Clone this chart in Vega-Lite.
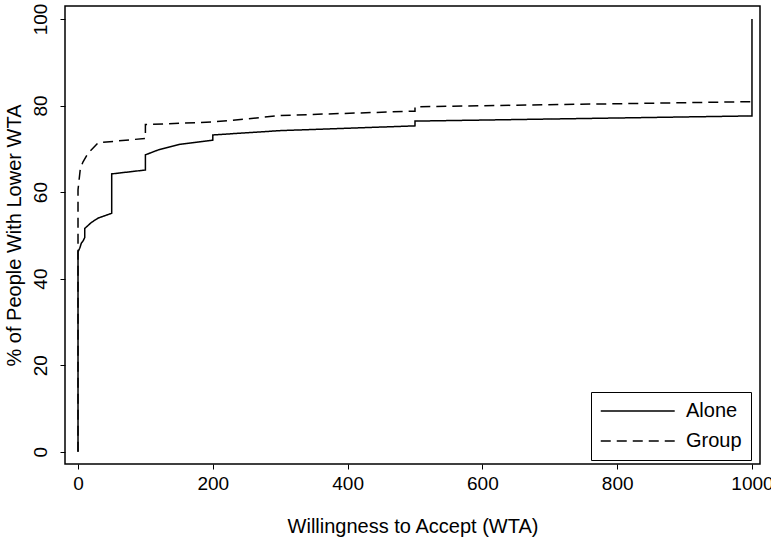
{
  "$schema": "https://vega.github.io/schema/vega-lite/v6.json",
  "width": 695,
  "height": 458,
  "autosize": "none",
  "padding": {"left": 65, "top": 6, "right": 11, "bottom": 77},
  "background": "white",
  "config": {
    "view": {"stroke": "black", "strokeWidth": 1.5},
    "font": "Liberation Sans",
    "axis": {"grid": false, "domain": false, "tickColor": "black", "tickWidth": 1, "tickSize": 5, "labelColor": "black", "titleColor": "black", "labelFontSize": 19, "titleFontSize": 20, "titleFontWeight": "normal", "labelFont": "Liberation Sans", "titleFont": "Liberation Sans"}
  },
  "data": {"values": [
    {"wta": 0, "pct": 0, "group": "Alone", "ord": 1},
    {"wta": 0, "pct": 46.2, "group": "Alone", "ord": 2},
    {"wta": 2.5, "pct": 47.0, "group": "Alone", "ord": 3},
    {"wta": 5, "pct": 48.2, "group": "Alone", "ord": 4},
    {"wta": 7.5, "pct": 48.7, "group": "Alone", "ord": 5},
    {"wta": 10, "pct": 49.5, "group": "Alone", "ord": 6},
    {"wta": 10, "pct": 51.6, "group": "Alone", "ord": 7},
    {"wta": 20, "pct": 53.0, "group": "Alone", "ord": 8},
    {"wta": 30, "pct": 54.0, "group": "Alone", "ord": 9},
    {"wta": 50, "pct": 55.1, "group": "Alone", "ord": 10},
    {"wta": 50, "pct": 64.2, "group": "Alone", "ord": 11},
    {"wta": 100, "pct": 65.1, "group": "Alone", "ord": 12},
    {"wta": 100, "pct": 68.6, "group": "Alone", "ord": 13},
    {"wta": 120, "pct": 69.8, "group": "Alone", "ord": 14},
    {"wta": 150, "pct": 71.0, "group": "Alone", "ord": 15},
    {"wta": 200, "pct": 72.0, "group": "Alone", "ord": 16},
    {"wta": 200, "pct": 73.2, "group": "Alone", "ord": 17},
    {"wta": 300, "pct": 74.2, "group": "Alone", "ord": 18},
    {"wta": 500, "pct": 75.3, "group": "Alone", "ord": 19},
    {"wta": 500, "pct": 76.4, "group": "Alone", "ord": 20},
    {"wta": 1000, "pct": 77.6, "group": "Alone", "ord": 21},
    {"wta": 1000, "pct": 100, "group": "Alone", "ord": 22},
    {"wta": 0, "pct": 0, "group": "Group", "ord": 1},
    {"wta": 0, "pct": 60.5, "group": "Group", "ord": 2},
    {"wta": 3.5, "pct": 65.5, "group": "Group", "ord": 3},
    {"wta": 7.5, "pct": 67.0, "group": "Group", "ord": 4},
    {"wta": 15, "pct": 69.0, "group": "Group", "ord": 5},
    {"wta": 30, "pct": 71.4, "group": "Group", "ord": 6},
    {"wta": 100, "pct": 72.4, "group": "Group", "ord": 7},
    {"wta": 100, "pct": 75.6, "group": "Group", "ord": 8},
    {"wta": 200, "pct": 76.2, "group": "Group", "ord": 9},
    {"wta": 250, "pct": 76.9, "group": "Group", "ord": 10},
    {"wta": 300, "pct": 77.7, "group": "Group", "ord": 11},
    {"wta": 500, "pct": 78.7, "group": "Group", "ord": 12},
    {"wta": 500, "pct": 79.7, "group": "Group", "ord": 13},
    {"wta": 1000, "pct": 80.9, "group": "Group", "ord": 14}
  ]},
  "mark": {"type": "line", "color": "black", "strokeWidth": 1.5},
  "encoding": {
    "x": {"field": "wta", "type": "quantitative",
      "scale": {"domain": [-19.3, 1011.9], "nice": false, "zero": false},
      "axis": {"values": [0, 200, 400, 600, 800, 1000], "format": "d", "labelPadding": 5, "titlePadding": 23, "title": "Willingness to Accept (WTA)"}},
    "y": {"field": "pct", "type": "quantitative",
      "scale": {"domain": [-2.84, 103.0], "nice": false, "zero": false},
      "axis": {"values": [0, 20, 40, 60, 80, 100], "format": "d", "labelAngle": -90, "labelAlign": "center", "labelBaseline": "bottom", "labelPadding": 10, "titlePadding": 7, "title": "% of People With Lower WTA"}},
    "order": {"field": "ord", "type": "quantitative"},
    "strokeDash": {"field": "group", "type": "nominal",
      "scale": {"domain": ["Alone", "Group"], "range": [[1, 0], [10, 6]]},
      "legend": {"title": null, "orient": "none", "legendX": 526, "legendY": 386, "strokeColor": "black", "padding": 9, "symbolType": "M-1,0H7", "symbolSize": 342, "symbolStrokeWidth": 1.5, "symbolStrokeColor": "black", "labelFontSize": 20, "labelColor": "black", "labelFont": "Liberation Sans", "labelOffset": 66, "rowPadding": 10}}
  }
}
